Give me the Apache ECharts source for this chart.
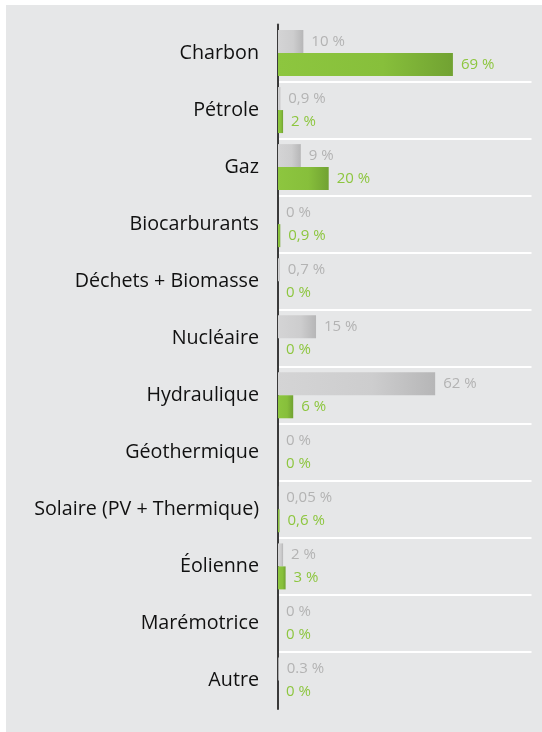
<!DOCTYPE html>
<html>
<head>
<meta charset="utf-8">
<script src="https://cdn.jsdelivr.net/npm/echarts@6/dist/echarts.min.js"></script>
<style>
  html, body { margin: 0; padding: 0; background: #ffffff; }
  #panel { position: absolute; left: 6px; top: 5px; right: 0; bottom: 0; background: #e6e7e8; }
  #chart { position: absolute; left: 0; top: 0; width: 542px; height: 732px; }
</style>
</head>
<body>
<div id="panel"></div>
<div id="chart"></div>
<script>
const categories = ['Charbon', 'Pétrole', 'Gaz', 'Biocarburants', 'Déchets + Biomasse', 'Nucléaire',
  'Hydraulique', 'Géothermique', 'Solaire (PV + Thermique)', 'Éolienne', 'Marémotrice', 'Autre'];
const grayValues = [10, 0.9, 9, 0, 0.7, 15, 62, 0, 0.05, 2, 0, 0.3];
const grayLabels = ['10 %', '0,9 %', '9 %', '0 %', '0,7 %', '15 %', '62 %', '0 %', '0,05 %', '2 %', '0 %', '0.3 %'];
const greenValues = [69, 2, 20, 0.9, 0, 0, 6, 0, 0.6, 3, 0, 0];
const greenLabels = ['69 %', '2 %', '20 %', '0,9 %', '0 %', '0 %', '6 %', '0 %', '0,6 %', '3 %', '0 %', '0 %'];

// separators only between rows: first and last boundary lines transparent
const separatorColors = ['rgba(255,255,255,0)']
  .concat(categories.slice(1).map(() => '#ffffff'))
  .concat(['rgba(255,255,255,0)']);

const chart = echarts.init(document.getElementById('chart'), null, { renderer: 'canvas' });
const font = '"Open Sans", "Noto Sans", sans-serif';
chart.setOption({
  backgroundColor: 'transparent',
  animation: false,
  grid: { left: 278, right: 10.5, top: 24.5, bottom: 23, containLabel: false },
  xAxis: {
    type: 'value', min: 0, max: 100,
    show: false
  },
  yAxis: {
    type: 'category', data: categories, inverse: true,
    axisLine: { show: true, lineStyle: { color: '#3a3a3a', width: 2 } },
    axisTick: { show: false },
    axisLabel: { color: '#111111', fontSize: 19.7, fontFamily: font, margin: 19, interval: 0 },
    splitLine: {
      show: true,
      interval: 0,
      lineStyle: { color: separatorColors, width: 2 }
    }
  },
  series: [
    {
      type: 'bar', data: grayValues, barWidth: 23, barGap: '0%',
      itemStyle: {
        color: new echarts.graphic.LinearGradient(0, 0, 1, 0, [
          { offset: 0, color: '#d4d4d5' },
          { offset: 0.6, color: '#cdcdce' },
          { offset: 1, color: '#b6b6b7' }
        ])
      },
      label: {
        show: true, position: 'right', distance: 8,
        color: '#b3b3b3', fontSize: 15, fontFamily: font,
        formatter: p => grayLabels[p.dataIndex]
      }
    },
    {
      type: 'bar', data: greenValues, barWidth: 23, barGap: '0%',
      itemStyle: {
        color: new echarts.graphic.LinearGradient(0, 0, 1, 0, [
          { offset: 0, color: '#8dc63f' },
          { offset: 0.6, color: '#87bf3b' },
          { offset: 1, color: '#71a232' }
        ])
      },
      label: {
        show: true, position: 'right', distance: 8,
        color: '#8dc63f', fontSize: 15, fontFamily: font,
        formatter: p => greenLabels[p.dataIndex]
      }
    }
  ]
});
</script>
</body>
</html>
